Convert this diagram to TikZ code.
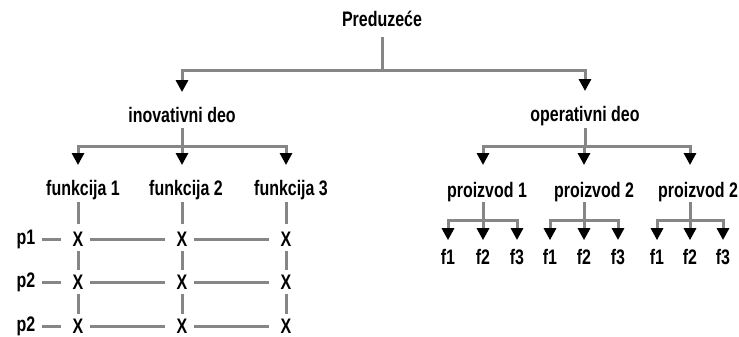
\documentclass[tikz,border=0pt]{standalone}
\usepackage{fontspec}
\setmainfont{Liberation Sans}[FakeStretch=0.76]
\usetikzlibrary{arrows.meta}

\begin{document}
\begin{tikzpicture}[x=1pt,y=-1pt,
    lbl/.style={inner sep=0pt, font=\fontsize{21}{24}\selectfont\bfseries},
    conn/.style={draw=lineGray, line width=3pt},
    arr/.style={-{Triangle[width=12pt,length=12pt,black]}},
    gridline/.style={conn, shorten <=6pt, shorten >=11pt}]
  \colorlet{lineGray}{gray!95!white}
  \useasboundingbox (0,0) rectangle (739,337);

  %--- Root ---
  \node[lbl] (pred) at (382,19) {Preduzeće};
  \coordinate (top) at (382,71);
  \draw[conn, shorten <=10pt] (pred.south) -- (top);

  %--- Two parts ---
  \node[lbl] (inov) at (182,115) {inovativni deo};
  \node[lbl] (oper) at (585,116) {operativni deo};
  \draw[conn, arr, shorten >=15pt] (top) -| (inov.north);
  \draw[conn, arr, shorten >=15pt] (top) -| (oper.north);

  %--- Left: functions and the p/X grid ---
  \coordinate (jl) at (182,146);
  \draw[conn, shorten <=5pt] (inov.south) -- (jl);
  \node[lbl] (fun1) at (83,190)  {funkcija 1};
  \node[lbl] (fun2) at (186,190) {funkcija 2};
  \node[lbl] (fun3) at (291,190) {funkcija 3};
  \foreach \r/\y in {1/239,2/282,3/326} {
    \foreach \c/\x in {1/78,2/182,3/286} {
      \node[lbl] (x\r\c) at (\x,\y) {X};
    }
  }
  \node[lbl] (p1) at (26,239) {p1};
  \node[lbl] (p2) at (26,282) {p2};
  \node[lbl] (p3) at (26,326) {p2};

  \draw[conn, arr, shorten >=15pt] (jl) -| (x11 |- fun1.north);
  \draw[conn, arr, shorten >=15pt] (jl) -- (x12 |- fun2.north);
  \draw[conn, arr, shorten >=15pt] (jl) -| (x13 |- fun3.north);

  \foreach \c in {1,2,3} {
    \draw[conn, shorten <=2pt, shorten >=8pt] (x1\c |- fun\c.south) -- (x1\c);
    \draw[conn, shorten <=5pt, shorten >=5pt] (x1\c) -- (x2\c);
    \draw[conn, shorten <=5pt, shorten >=5pt] (x2\c) -- (x3\c);
  }
  \foreach \r in {1,2,3} {
    \draw[gridline] (p\r) -- (x\r1);
    \draw[gridline] (x\r1) -- (x\r2);
    \draw[gridline] (x\r2) -- (x\r3);
  }

  %--- Right: products and f1..f3 ---
  \coordinate (jr) at (585,146);
  \draw[conn, shorten <=2pt] (oper.south) -- (jr);
  \node[lbl] (pz1) at (487,192) {proizvod 1};
  \node[lbl] (pz2) at (594,192) {proizvod 2};
  \node[lbl] (pz3) at (698,192) {proizvod 2};
  \foreach \g/\xa/\xb/\xc in {1/448/483/517, 2/550/584/618, 3/657/690/723} {
    \coordinate (q\g) at (\xb,220);
    \node[lbl] (f\g1) at (\xa,257) {f1};
    \node[lbl] (f\g2) at (\xb,257) {f2};
    \node[lbl] (f\g3) at (\xc,257) {f3};
    \draw[conn, arr, shorten >=17pt] (jr) -| (q\g |- pz\g.north);
    \draw[conn] (pz\g.south -| q\g) -- (q\g);
    \draw[conn, arr, shorten >=9pt] (q\g) -| (f\g1.north);
    \draw[conn, arr, shorten >=9pt] (q\g) -- (f\g2.north);
    \draw[conn, arr, shorten >=9pt] (q\g) -| (f\g3.north);
  }

\end{tikzpicture}
\end{document}
